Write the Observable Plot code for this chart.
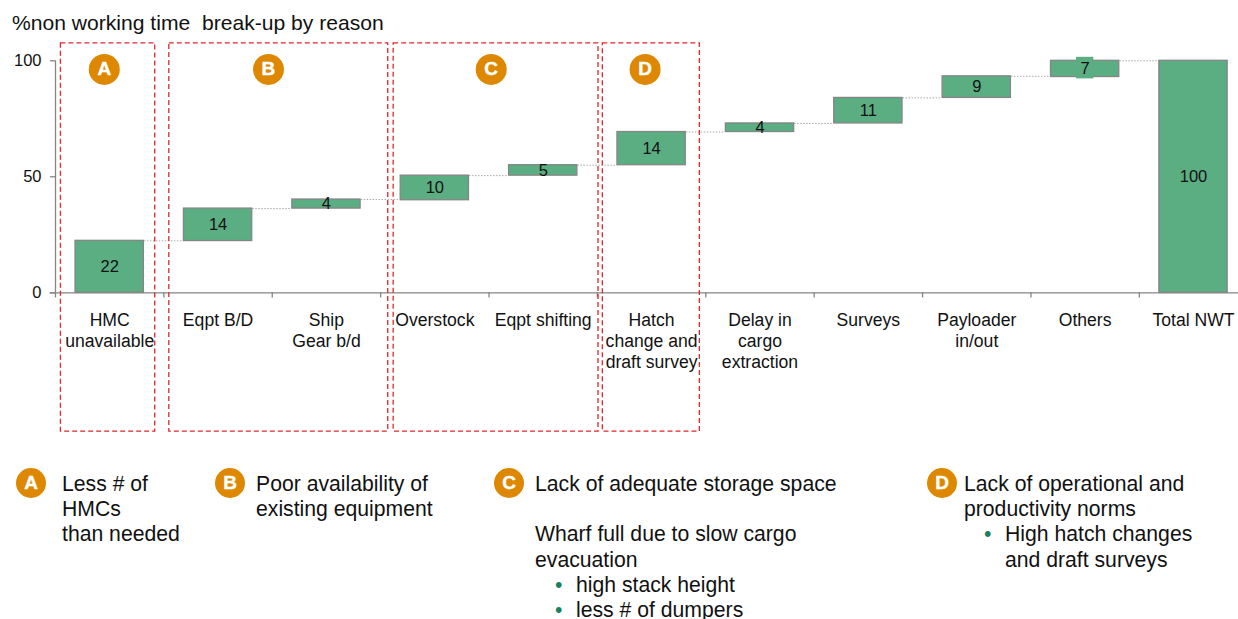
<!DOCTYPE html>
<html><head><meta charset="utf-8">
<script src="https://cdn.jsdelivr.net/npm/d3@7"></script>
<script src="https://cdn.jsdelivr.net/npm/@observablehq/plot@0.6"></script>
<style>
html,body{margin:0;padding:0;background:#fff;overflow:hidden;width:1238px;height:619px;font-family:"Liberation Sans",Arial,sans-serif;color:#111}
#title{height:36px;box-sizing:border-box;padding:11px 0 0 12px;font-size:21.1px;line-height:24px;white-space:pre}
#chart svg{display:block}
#legend{position:relative;height:183px;font-size:21.2px;line-height:25.4px}
.note{position:absolute;top:34.5px;white-space:pre}
.badge{position:absolute;top:32px;width:30px;height:30px;border-radius:50%;background:#DD8800;color:#fff;font-weight:bold;font-size:19px;line-height:30px;text-align:center;-webkit-text-stroke:.4px #fff}
.b{color:#1a8060;position:absolute;margin-left:-21px}
</style></head><body>
<div id="title"></div><div id="chart"></div><div id="legend"></div>
<script>
const titleText = "%non working time  break-up by reason";
const categories = ["HMC\nunavailable","Eqpt B/D","Ship\nGear b/d","Overstock","Eqpt shifting","Hatch\nchange and\ndraft survey","Delay in\ncargo\nextraction","Surveys","Payloader\nin/out","Others","Total NWT"];
const bases = [0,22.3,36.3,39.9,50.5,55,69.3,73,84,93,0];
const tops = [22.4,36.3,40.2,50.5,55,69.3,73,84,93.3,100,100];
const shown = [22,14,4,10,5,14,4,11,9,7,100];
const yTicks = [0,50,100];
const groupLetters = ["A","B","C","D"];
const groupFrom = [0.05,1.05,3.12,5.05];
const groupTo = [0.92,3.07,5.01,5.945];
const badgeAt = [0.45,1.965,4.02,5.44];
const notes = [
  {letter:"A",cx:16,tx:62,lines:["Less # of","HMCs","than needed"]},
  {letter:"B",cx:215,tx:256,lines:["Poor availability of","existing equipment"]},
  {letter:"C",cx:494,tx:535,lines:["Lack of adequate storage space","","Wharf full due to slow cargo","evacuation","•high stack height","•less # of dumpers"]},
  {letter:"D",cx:927,tx:964,lines:["Lack of operational and","productivity norms","•High hatch changes"," and draft surveys"]}
];

const idx = categories.map((d,i)=>i);
const green="#5BAD82", gray="#858585";
document.getElementById("title").textContent = titleText;

const plot = Plot.plot({
  width:1238,height:400,marginLeft:55,marginRight:0,marginTop:24.3,marginBottom:143.7,
  style:{fontFamily:"'Liberation Sans',Arial,sans-serif",background:"#fff",overflow:"visible"},
  x:{domain:[0,10.915],axis:null},
  y:{domain:[0,100],axis:null},
  marks:[
    Plot.ruleY(idx.slice(0,-1),{y:i=>tops[i],x1:i=>i+0.82,x2:i=>i+1.18,stroke:"#aaa",strokeDasharray:"1.5 1.5",strokeWidth:1}),
    Plot.rect(idx,{x1:i=>i+0.185,x2:i=>i+0.815,y1:i=>bases[i],y2:i=>tops[i],fill:green,stroke:gray,strokeWidth:1.3}),
    Plot.rect([9],{x1:i=>i+0.42,x2:i=>i+0.58,y1:92.2,y2:101.5,fill:green}),
    Plot.text(idx,{x:i=>i+0.5,y:i=>(bases[i]+tops[i])/2,text:i=>String(shown[i]),fontSize:16.5,fill:"#111"}),
    Plot.ruleX([0],{y1:0,y2:100,stroke:gray,strokeWidth:1.3}),
    Plot.ruleY([0],{x1:-0.05,x2:10.915,stroke:gray,strokeWidth:1.3}),
    Plot.axisY({ticks:yTicks,tickSize:5,tickPadding:9,stroke:gray,fill:"#111",fontSize:16.5,label:null,strokeWidth:1.3}),
    Plot.ruleX(d3.range(0,11),{y1:0,y2:-2.2,stroke:gray,strokeWidth:1.3}),
    Plot.axisX(idx.map(i=>i+0.5),{tickSize:0,tickPadding:18,tickFormat:d=>categories[Math.floor(d)],fontSize:17.6,lineHeight:1.2,fill:"#111",label:null}),
    Plot.rect(idx.slice(0,4),{x1:i=>groupFrom[i],x2:i=>groupTo[i],y1:-59.8,y2:107.5,fill:"none",stroke:"#E0282A",strokeWidth:1.3,strokeDasharray:"5 3"}),
    Plot.dot(idx.slice(0,4),{x:i=>badgeAt[i],y:96.3,r:15.5,fill:"#DD8800"}),
    Plot.text(idx.slice(0,4),{x:i=>badgeAt[i],y:96.3,text:i=>groupLetters[i],fill:"#fff",stroke:"#fff",strokeWidth:.4,fontWeight:"bold",fontSize:19})
  ]
});
document.getElementById("chart").append(plot);

const legend=document.getElementById("legend");
for(const n of notes){
  const b=document.createElement("div");b.className="badge";b.style.left=n.cx+"px";b.textContent=n.letter;legend.append(b);
  const t=document.createElement("div");t.className="note";t.style.left=n.tx+"px";
  n.lines.forEach(l=>{
    const line=document.createElement("div");line.style.height="25.4px";
    if(l.startsWith("•")){
      line.style.marginLeft="41px";
      const s=document.createElement("span");s.className="b";s.textContent="•";line.append(s,l.slice(1));
    } else if(l.startsWith(" ")){
      line.style.marginLeft="41px";line.append(l.trim());
    } else line.textContent=l;
    t.append(line);
  });
  legend.append(t);
}
</script></body></html>
